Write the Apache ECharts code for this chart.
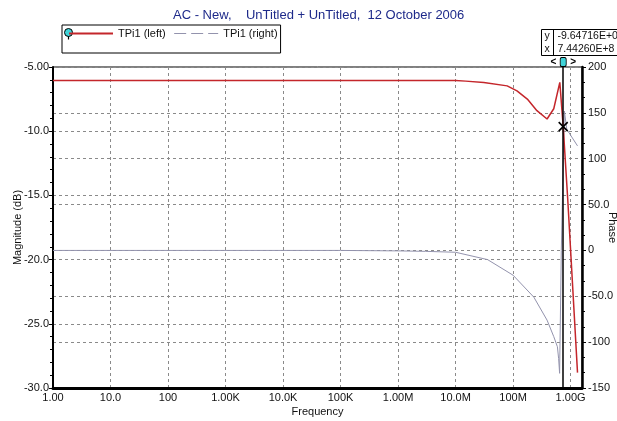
<!DOCTYPE html>
<html>
<head>
<meta charset="utf-8">
<script src="https://cdn.jsdelivr.net/npm/echarts@6/dist/echarts.min.js"></script>
<style>
  html, body { margin: 0; padding: 0; background: #fff; }
  #chart { width: 617px; height: 421px; }
</style>
</head>
<body>
<div id="chart"></div>
<script>
// magnitude trace (left axis, dB)
const magFreq = [1, 1e7, 1.5e7, 3.1e7, 7.9e7, 1.17e8, 1.77e8, 2.6e8, 3.9e8, 5.1e8, 6.5e8, 7.4426e8, 8.9e8, 1.32e9]
const magDb = [-6.05, -6.05, -6.1, -6.2, -6.47, -6.86, -7.5, -8.4, -9.05, -8.25, -6.2, -9.64716, -15.2, -28.8]

// phase trace (right axis, degrees)
const phFreq = [1, 1e5, 1e6, 3e6, 1e7, 3.6e7, 1e8, 2.3e8, 3.9e8, 5.1e8, 5.9e8, 6.2e8, 6.45e8, 6.9e8, 7.8e8, 8.6e8, 1.32e9]
const phDeg = [0, 0, -0.5, -1, -2, -10, -27, -51, -76, -94, -105, -118, -134, 0, 152, 132, 114]

// cursor readout
const cursorX = 7.4426e8
const cursorY = -9.64716

// tick labels
const xTickLabels = ['1.00', '10.0', '100', '1.00K', '10.0K', '100K', '1.00M', '10.0M', '100M', '1.00G']
const leftTicks = [-30, -25, -20, -15, -10, -5]
const leftTickLabels = ['-30.0', '-25.0', '-20.0', '-15.0', '-10.0', '-5.00']
const rightTicks = [-150, -100, -50, 0, 50, 100, 150, 200]
const rightTickLabels = ['-150', '-100', '-50.0', '0', '50.0', '100', '150', '200']

const font = 'Liberation Sans, Arial, sans-serif'
const redColor = '#c4262b'
const grayColor = '#9393ad'

function zip (xs, ys) {
  let out = []
  for (let i = 0; i < xs.length; i++) {
    out.push([xs[i], ys[i]])
  }
  return out
}

function fmtExp (v) {
  return v.toExponential(5).toUpperCase()
}

const chart = echarts.init(document.getElementById('chart'))

const option = {
  backgroundColor: '#fff',
  animation: false,
  textStyle: { fontFamily: font },
  title: {
    text: 'AC - New,    UnTitled + UnTitled,  12 October 2006',
    left: 168,
    top: 4,
    textStyle: { color: '#1e2a8a', fontSize: 13, fontWeight: 'normal', fontFamily: font }
  },
  legend: {
    left: 62,
    top: 25,
    orient: 'horizontal',
    padding: [3, 3, 14, 6],
    itemGap: 8,
    itemWidth: 44,
    itemHeight: 10,
    borderColor: '#000',
    borderWidth: 1,
    itemStyle: { opacity: 0 },
    textStyle: { fontSize: 11, color: '#111', fontFamily: font },
    data: [
      { name: 'TPi1 (left)' },
      { name: 'TPi1 (right)', lineStyle: { type: [12, 5], width: 1 } }
    ]
  },
  grid: {
    left: 53,
    right: 35,
    top: 67,
    bottom: 33,
    containLabel: false,
    outerBoundsMode: 'none',
    show: true,
    borderColor: '#000',
    borderWidth: 1
  },
  xAxis: {
    type: 'log',
    logBase: 10,
    min: 1,
    max: 1.58e9,
    name: 'Frequency',
    nameLocation: 'middle',
    nameGap: 18,
    nameMoveOverlap: false,
    nameTextStyle: { fontSize: 11, color: '#111' },
    axisLine: { onZero: false, lineStyle: { color: '#000', width: 3 } },
    axisTick: { show: false },
    axisLabel: {
      fontSize: 11,
      color: '#111',
      margin: 4,
      showMaxLabel: false,
      formatter: function (v) {
        const e = Math.round(Math.log10(v))
        if (Math.abs(Math.log10(v) - e) > 0.01) return ''
        return xTickLabels[e] || ''
      }
    },
    splitLine: { show: true, lineStyle: { color: '#8a8a8a', type: [3, 3], width: 1 } }
  },
  yAxis: [
    {
      type: 'value',
      min: -30,
      max: -5,
      interval: 5,
      name: 'Magnitude (dB)',
      nameLocation: 'middle',
      nameGap: 30,
      nameMoveOverlap: false,
      nameTextStyle: { fontSize: 11, color: '#111' },
      axisLine: { show: true, onZero: false, lineStyle: { color: '#000', width: 2 } },
      axisTick: { show: true, length: 4, lineStyle: { color: '#000' } },
      minorTick: { show: true, splitNumber: 5, length: 3, lineStyle: { color: '#000' } },
      axisLabel: {
        fontSize: 11,
        color: '#111',
        margin: 4,
        formatter: function (v) {
          const i = leftTicks.indexOf(v)
          return i < 0 ? '' : leftTickLabels[i]
        }
      },
      splitLine: { show: true, lineStyle: { color: '#8a8a8a', type: [3, 3], width: 1 } }
    },
    {
      type: 'value',
      position: 'right',
      min: -150,
      max: 200,
      interval: 50,
      name: 'Phase',
      nameLocation: 'middle',
      nameRotate: -90,
      nameGap: 25,
      nameMoveOverlap: false,
      nameTextStyle: { fontSize: 11, color: '#111' },
      axisLine: { show: true, onZero: false, lineStyle: { color: '#000', width: 2.5 } },
      axisTick: { show: true, length: 4, lineStyle: { color: '#000' } },
      minorTick: { show: true, splitNumber: 3, length: 3, lineStyle: { color: '#000' } },
      axisLabel: {
        fontSize: 11,
        color: '#111',
        margin: 6,
        formatter: function (v) {
          const i = rightTicks.indexOf(v)
          return i < 0 ? '' : rightTickLabels[i]
        }
      },
      splitLine: { show: true, lineStyle: { color: '#8a8a8a', type: [3, 3], width: 1 } }
    }
  ],
  series: [
    {
      name: 'TPi1 (right)',
      type: 'line',
      yAxisIndex: 1,
      symbol: 'none',
      data: zip(phFreq, phDeg),
      lineStyle: { color: grayColor, width: 1 },
      itemStyle: { color: grayColor },
      z: 2
    },
    {
      name: 'TPi1 (left)',
      type: 'line',
      yAxisIndex: 0,
      symbol: 'none',
      data: zip(magFreq, magDb),
      lineStyle: { color: redColor, width: 1.5 },
      itemStyle: { color: redColor },
      z: 3,
      markLine: {
        silent: true,
        symbol: 'none',
        animation: false,
        label: { show: false },
        lineStyle: { color: '#000', width: 1.5, type: 'solid' },
        data: [{ xAxis: cursorX }]
      },
      markPoint: {
        silent: true,
        animation: false,
        data: [
          {
            coord: [cursorX, cursorY],
            symbol: 'path://M0,0L10,10M10,0L0,10',
            symbolSize: 9,
            itemStyle: { color: 'none', borderColor: '#000', borderWidth: 1.6 },
            label: { show: false }
          },
          {
            coord: [cursorX, -5],
            symbol: 'roundRect',
            symbolSize: [6, 9],
            symbolOffset: [0, -5],
            itemStyle: { color: '#3fd3d8', borderColor: '#000', borderWidth: 1 },
            label: {
              show: true,
              position: 'inside',
              formatter: '<     >',
              fontSize: 10,
              fontWeight: 'bold',
              color: '#000'
            }
          }
        ]
      }
    }
  ],
  graphic: [
    {
      type: 'group',
      left: 64,
      top: 28,
      children: [
        { type: 'line', shape: { x1: 4, y1: 6, x2: 4, y2: 11 }, style: { stroke: '#000', lineWidth: 1.2 } },
        { type: 'circle', shape: { cx: 4, cy: 4, r: 4 }, style: { fill: '#3fd3d8', stroke: '#000', lineWidth: 1 } }
      ]
    },
    {
      type: 'group',
      left: 541,
      top: 27,
      children: [
        { type: 'rect', shape: { x: 0, y: 0, width: 90, height: 26 }, style: { fill: '#fff', stroke: '#000', lineWidth: 1 } },
        { type: 'line', shape: { x1: 12, y1: 0, x2: 12, y2: 26 }, style: { stroke: '#000', lineWidth: 1 } },
        { type: 'text', x: 3, y: 1, style: { text: 'y', fontSize: 10.5, fill: '#111', fontFamily: font } },
        { type: 'text', x: 3, y: 14, style: { text: 'x', fontSize: 10.5, fill: '#111', fontFamily: font } },
        { type: 'text', x: 16, y: 1, style: { text: fmtExp(cursorY), fontSize: 10.5, fill: '#111', fontFamily: font } },
        { type: 'text', x: 16, y: 14, style: { text: fmtExp(cursorX), fontSize: 10.5, fill: '#111', fontFamily: font } }
      ]
    }
  ]
}

chart.setOption(option)
</script>
</body>
</html>
